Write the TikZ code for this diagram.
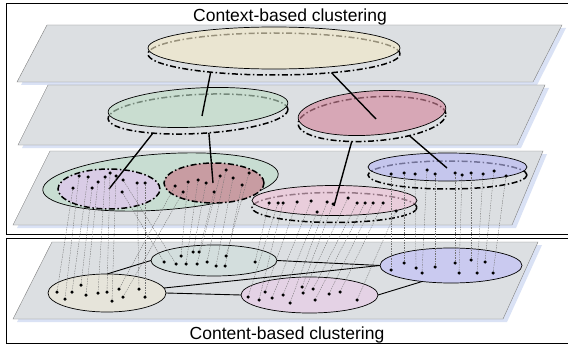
\documentclass[tikz,border=0pt]{standalone}
\usepackage{fontspec}
\setmainfont{Liberation Sans}
\usetikzlibrary{shapes.geometric}
\definecolor{planegray}{HTML}{DCDFE2}
\definecolor{planeshadow}{HTML}{DAE2F5}
\definecolor{cream}{HTML}{F4EAC8}
\definecolor{sage}{HTML}{BEDCC6}
\definecolor{rose}{HTML}{D4869C}
\definecolor{mint}{HTML}{C8DDD2}
\definecolor{lilac}{HTML}{D9CCE6}
\definecolor{mauve}{HTML}{C89CA2}
\definecolor{blush}{HTML}{F2C2D8}
\definecolor{periwinkle}{HTML}{B8B8F4}
\definecolor{stone}{HTML}{E6E4DA}
\definecolor{fog}{HTML}{D3DEDD}
\definecolor{thistle}{HTML}{E4D2E5}
\definecolor{lavender}{HTML}{CACAF0}
\begin{document}
\begin{tikzpicture}
[x=1pt,y=-1pt,
every node/.style={ellipse,inner sep=0pt,outer sep=0pt,draw,line width=0.7pt},
plane/.style={fill=planegray,draw=black!50,line width=0.4pt},
rim/.style={draw,fill=none,line width=1.5pt,dash pattern=on 6pt off 2.5pt on 1.5pt off 2.5pt},
disc/.style={fill opacity=0.62},
link/.style={line width=1.4pt},
tie/.style={line width=0.9pt},
trace/.style={draw=black!55,line width=0.35pt,dash pattern=on 1.5pt off 1pt},
dot/.style={circle,fill=black,draw=none,minimum size=3.5pt},
heading/.style={rectangle,draw=none,anchor=base,font=\fontsize{17.5}{20}\selectfont},
]
\useasboundingbox (0,0) rectangle (568,345);
\fill[white] (0,0) rectangle (568,345);
\draw[line width=0.9pt] (6.5,3) rectangle (575,234.5);
\draw[line width=0.9pt] (6.5,238.5) rectangle (575,343);
\foreach \xa/\xb/\xc/\xd/\ya/\yb in {47/562/533/17/25/82,48/545/517/18/85/145,50/543/512/13/151/225,52/538/503/13/242/319}{
  \fill[planeshadow] ({\xa+4},{\ya+3}) -- ({\xb+4},{\ya+3}) -- ({\xc+4},{\yb+3}) -- ({\xd+4},{\yb+3}) -- cycle;
  \draw[plane] (\xa,\ya) -- (\xb,\ya) -- (\xc,\yb) -- (\xd,\yb) -- cycle;
}
\node[heading] (ctxtitle) at (290,21.5) {Context-based clustering};
\node[heading] (cnttitle) at (287,339.5) {Content-based clustering};

\node[rim,minimum width=252,minimum height=42] (ctxrim) at (274,54) {};
\node[disc,fill=cream,minimum width=252,minimum height=42] (ctx) at (274,48) {};

\node[rim,rotate=3,minimum width=180,minimum height=39] (sagerim) at (198,114) {};
\node[disc,fill=sage,rotate=3,minimum width=180,minimum height=39] (sage2) at (198,107.5) {};
\node[rim,rotate=4,minimum width=148,minimum height=44] (roserim) at (372,119) {};
\node[disc,fill=rose,rotate=4,minimum width=148,minimum height=44] (rose2) at (372,113) {};

\node[fill=mint,rotate=4,minimum width=236,minimum height=56] (mint3) at (160.5,182) {};
\node[rim,fill=lilac,minimum width=102,minimum height=40] (lilac3) at (109,189) {};
\node[rim,fill=mauve,minimum width=100,minimum height=40] (mauve3) at (214,183) {};
\node[rim,minimum width=165,minimum height=30] (blushrim) at (334.5,207.5) {};
\node[disc,fill=blush,minimum width=165,minimum height=30] (blush3) at (334.5,200.5) {};
\node[rim,minimum width=159,minimum height=28] (peririm) at (447.5,175) {};
\node[disc,fill=periwinkle,minimum width=159,minimum height=28] (peri3) at (447.5,167) {};

\node[fill=stone,minimum width=118,minimum height=38] (stone4) at (107,293) {};
\node[fill=fog,minimum width=126,minimum height=31] (fog4) at (214,260.5) {};
\node[fill=thistle,minimum width=137,minimum height=36] (thistle4) at (309.5,295) {};
\node[fill=lavender,minimum width=142,minimum height=35] (lav4) at (451,265.5) {};

\draw[tie] (fog4.west) -- (stone4.north);
\draw[tie] (fog4.east) -- (lav4.west);
\draw[tie] (stone4.5) -- (lav4.west);
\draw[tie] (stone4.east) -- (thistle4.west);
\draw[tie] (thistle4.east) -- (lav4.209);

\coordinate (sagein) at (202,116);
\coordinate (rosein) at (376,119);
\coordinate (lilacin) at (109,189);
\coordinate (mauvein) at (213,183);
\coordinate (blushin) at (334,206);
\coordinate (periin) at (447,168);
\draw[link] (ctxrim.196) -- (sagein);
\draw[link] (ctxrim.-18) -- (rosein);
\draw[link] (sagerim.200) -- (lilacin);
\draw[link] (sagerim.-63) -- (mauvein);
\draw[link] (roserim.224) -- (blushin);
\draw[link] (roserim.-28) -- (periin);

\foreach \xa/\ya/\xb/\yb [count=\i] in {
  73/188/57/292, 79/176/65/299, 88/177/72/292, 92/188/81/285, 98/182/86/295, 105/177/98/293,
  110/173/107/292, 116/176/112/301, 137/183/139/289, 145/183/145/297, 122/192/164/262, 123/180/176/264,
  175/186/119/289, 183/192/123/297, 188/182/181/256, 198/180/186/264, 206/183/193/252, 214/192/199/252,
  220/176/197/264, 226/170/207/262, 233/178/216/266, 242/185/225/266, 249/173/226/256,
  269/203/255/262, 278/203/248/297, 283/203/259/300, 297/202/265/292, 311/201/272/298, 317/212/283/295,
  327/202/290/303, 333/204/302/287, 348/198/303/293, 357/203/313/289, 365/203/315/300, 373/203/329/294,
  383/203/340/292, 396/211/357/300,
  391/174/391/270, 404/173/404/263, 415/174/416/268, 427/170/422/273, 435/174/435/267, 455/173/455/263,
  462/175/459/273, 471/173/471/260, 483/174/477/273, 494/171/485/262, 506/176/493/273}{
  \node[dot] (up\i) at (\xa,\ya) {};
  \node[dot] (low\i) at (\xb,\yb) {};
  \draw[trace] (up\i) -- (low\i);
}
\end{tikzpicture}
\end{document}
